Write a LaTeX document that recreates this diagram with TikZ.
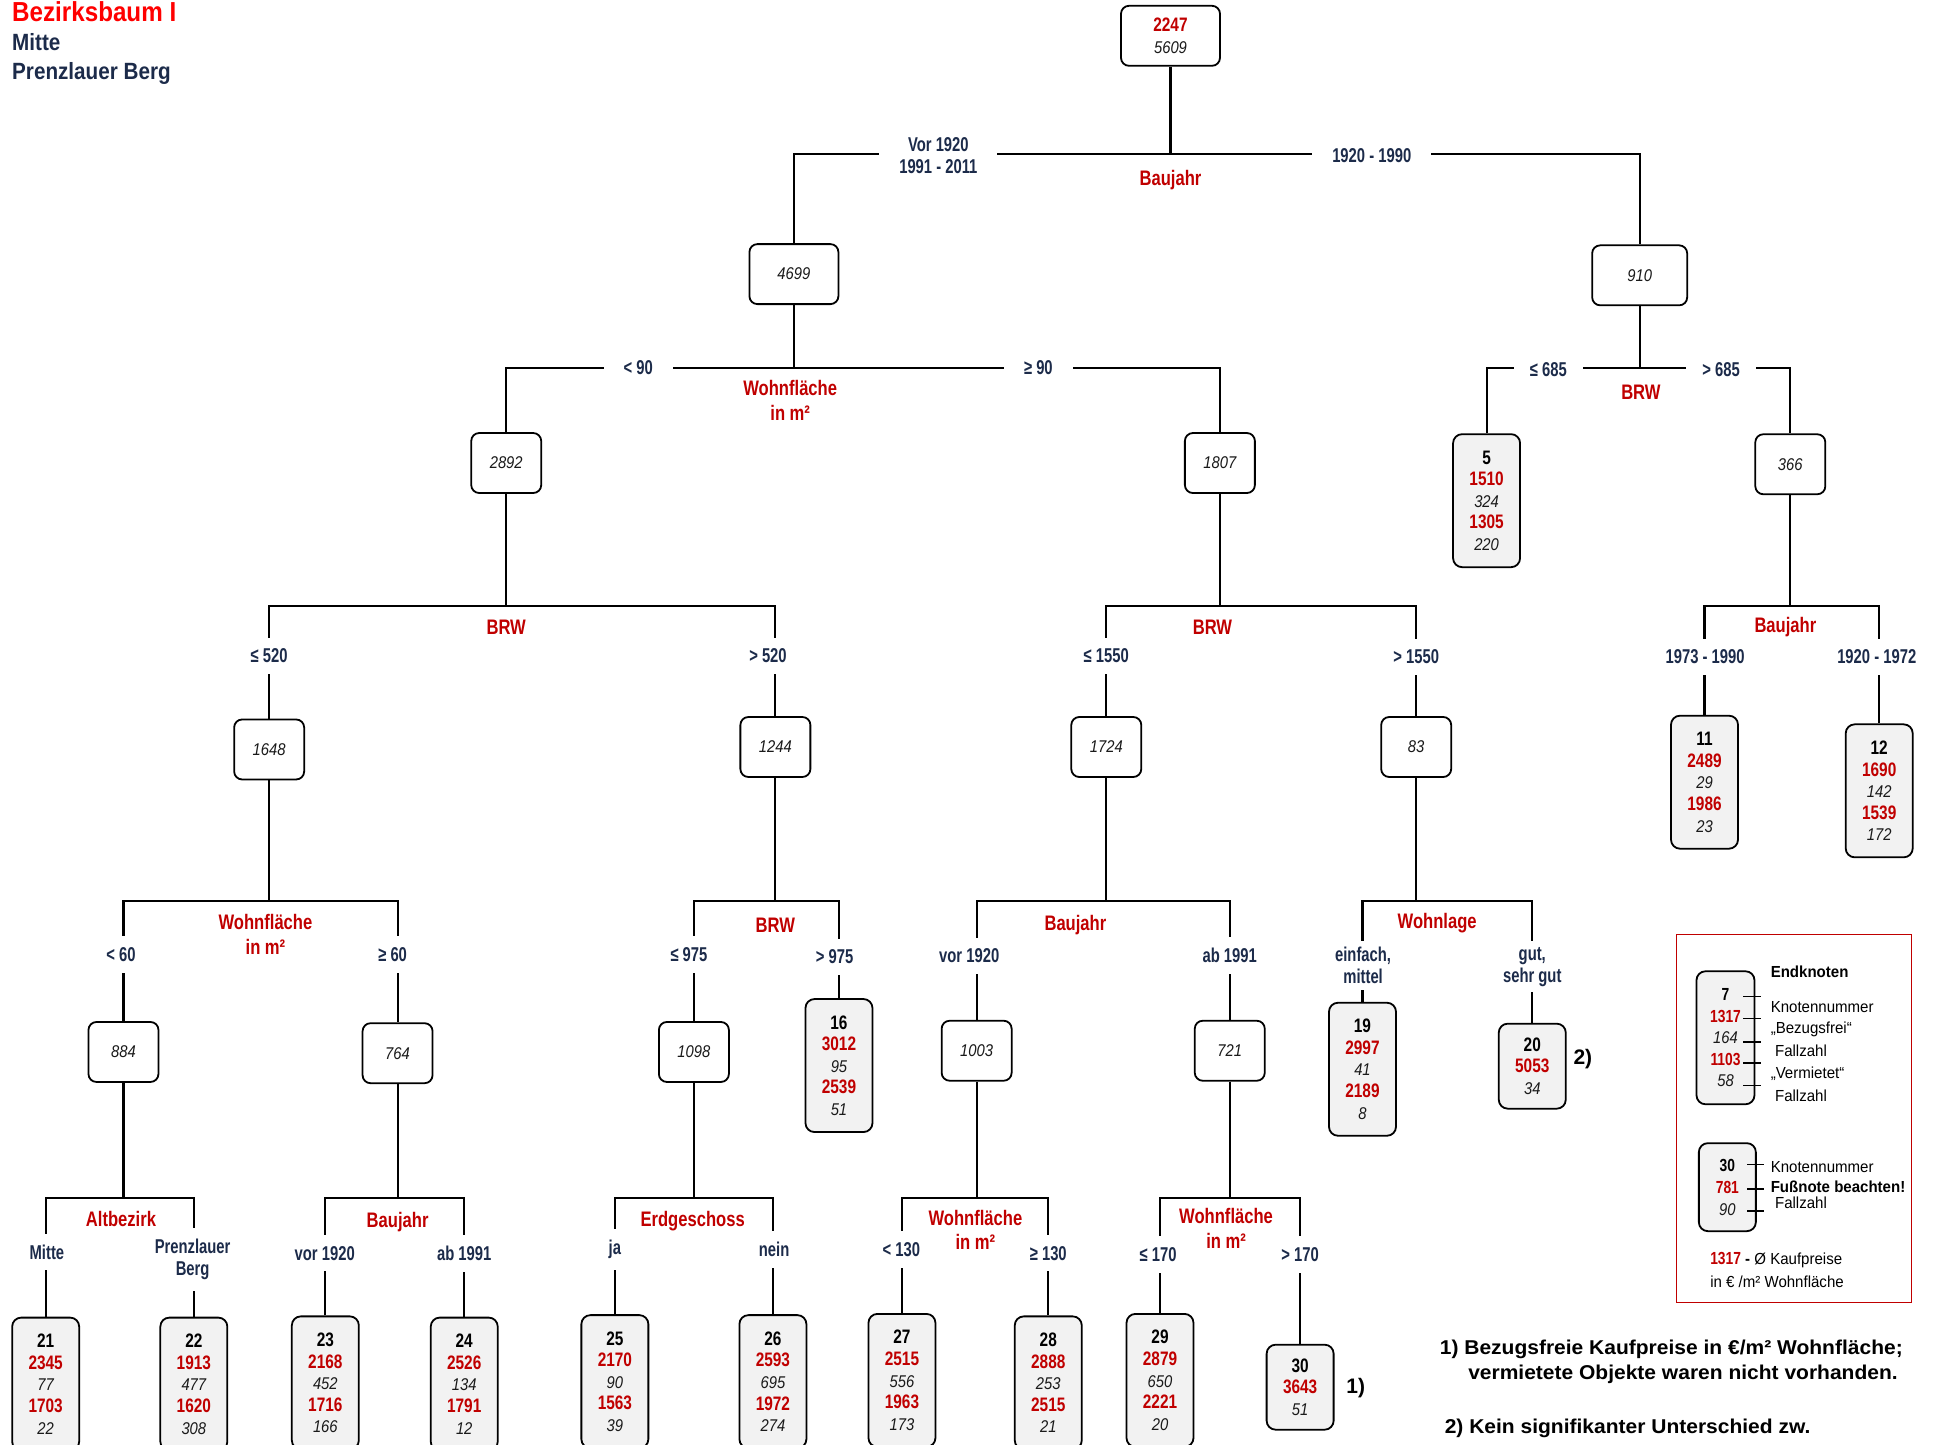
\documentclass[tikz,border=0pt]{standalone}
\usepackage{fontspec}
\setmainfont{Liberation Sans}
\newfontfamily\fcond{Liberation Sans}[FakeStretch=0.79]
\newfontfamily\fital{Liberation Sans}[FakeStretch=0.87]
\newfontfamily\flbl{Liberation Sans}[FakeStretch=0.74]
\newfontfamily\ftitle{Liberation Sans}[FakeStretch=0.88]
\newfontfamily\fleg{Liberation Sans}[FakeStretch=0.94]
\newfontfamily\ffoot{Liberation Sans}[FakeStretch=1.05]
\definecolor{lblred}{HTML}{C00000}
\definecolor{titlered}{HTML}{FF0000}
\definecolor{brnavy}{HTML}{1C2B4A}
\definecolor{leafgray}{HTML}{F2F2F2}
\definecolor{cntgray}{HTML}{1A1A1A}
\newcommand{\fcnt}{\fital\itshape\mdseries\color{cntgray}\fontsize{17}{21.6}\selectfont}
\newcommand{\lfive}[5]{{\bfseries #1}\\{\color{lblred}\bfseries #2}\\{\fcnt #3}\\{\color{lblred}\bfseries #4}\\{\fcnt #5}}
\newcommand{\lthree}[3]{{\bfseries #1}\\{\color{lblred}\bfseries #2}\\{\fcnt #3}}
\tikzset{
  conn/.style={line width=2.1pt},
  innerbox/.style={draw, line width=1.8pt, rounded corners=8pt, fill=white,
    minimum width=70pt, minimum height=60pt, inner sep=0pt, text=cntgray,
    font=\fital\itshape\fontsize{17}{18}\selectfont},
  leafbox/.style={draw, line width=1.8pt, rounded corners=9pt, fill=leafgray,
    minimum width=67pt, minimum height=133pt, inner sep=0pt, align=center,
    font=\fcond\bfseries\fontsize{19.5}{21.6}\selectfont},
  leafsmall/.style={leafbox, minimum height=85pt},
  brh/.style={fill=white, text=brnavy, align=center, inner xsep=20pt, inner ysep=3pt,
    font=\flbl\bfseries\fontsize{20}{22}\selectfont},
  brv/.style={fill=white, text=brnavy, align=center, inner xsep=3pt, inner ysep=11pt,
    font=\flbl\bfseries\fontsize{20}{22}\selectfont},
  varlbl/.style={text=lblred, align=center, inner sep=0pt,
    font=\fcond\bfseries\fontsize{21}{24.7}\selectfont},
  legtxt/.style={anchor=base west, inner sep=0pt, font=\fleg\fontsize{16}{19}\selectfont},
  foot/.style={anchor=base west, inner sep=0pt, font=\ffoot\bfseries\fontsize{20}{22}\selectfont},
}
\begin{document}
\begin{tikzpicture}[x=1.2347pt, y=-1.2347pt]
\useasboundingbox (0,0) rectangle (1568,1170);
\clip (0,0) rectangle (1568,1170);

% title
\node[anchor=base west, inner sep=0pt, text=titlered, font=\ftitle\bfseries\fontsize{27.5}{30}\selectfont] (title) at (9.7,17.2) {Bezirksbaum I};
\node[anchor=base west, inner sep=0pt, text=brnavy, font=\ftitle\bfseries\fontsize{23.5}{26}\selectfont] (t1) at (9.7,40.5) {Mitte};
\node[anchor=base west, inner sep=0pt, text=brnavy, font=\ftitle\bfseries\fontsize{23.5}{26}\selectfont] (t2) at (9.7,64) {Prenzlauer Berg};

% inner nodes
\node[innerbox, minimum width=99pt, align=center, font=\fcond\fontsize{17}{22}\selectfont] (root) at (948,29)
  {{\color{lblred}\bfseries\fontsize{19.5}{22}\selectfont 2247}\\{\fcnt 5609}};
\node[innerbox, minimum width=89pt] (n4699) at (643,222) {4699};
\node[innerbox, minimum width=95pt] (n910) at (1328,223) {910};
\node[innerbox] (n2892) at (410,375) {2892};
\node[innerbox] (n1807) at (988,375) {1807};
\node[innerbox] (n366) at (1450,376) {366};
\node[innerbox] (n1648) at (218,607) {1648};
\node[innerbox] (n1244) at (628,605) {1244};
\node[innerbox] (n1724) at (896,605) {1724};
\node[innerbox] (n83) at (1147,605) {83};
\node[innerbox] (n884) at (100,852) {884};
\node[innerbox] (n764) at (322,853) {764};
\node[innerbox] (n1098) at (562,852) {1098};
\node[innerbox] (n1003) at (791,851) {1003};
\node[innerbox] (n721) at (996,851) {721};

% leaves
\node[leafbox] (l5) at (1204,405.5) {\lfive{5}{1510}{324}{1305}{220}};
\node[leafbox] (l11) at (1380.5,633.5) {\lfive{11}{2489}{29}{1986}{23}};
\node[leafbox] (l12) at (1522,640.5) {\lfive{12}{1690}{142}{1539}{172}};
\node[leafbox] (l16) at (679.5,863) {\lfive{16}{3012}{95}{2539}{51}};
\node[leafbox] (l19) at (1103.5,866) {\lfive{19}{2997}{41}{2189}{8}};
\node[leafsmall] (l20) at (1241,863.5) {\lthree{20}{5053}{34}};
\node[leafbox] (l21) at (37,1121) {\lfive{21}{2345}{77}{1703}{22}};
\node[leafbox] (l22) at (157,1121) {\lfive{22}{1913}{477}{1620}{308}};
\node[leafbox] (l23) at (263.5,1120) {\lfive{23}{2168}{452}{1716}{166}};
\node[leafbox] (l24) at (376,1121) {\lfive{24}{2526}{134}{1791}{12}};
\node[leafbox] (l25) at (498,1119) {\lfive{25}{2170}{90}{1563}{39}};
\node[leafbox] (l26) at (626,1119) {\lfive{26}{2593}{695}{1972}{274}};
\node[leafbox] (l27) at (730.5,1118) {\lfive{27}{2515}{556}{1963}{173}};
\node[leafbox] (l28) at (849,1120) {\lfive{28}{2888}{253}{2515}{21}};
\node[leafbox] (l29) at (939.5,1118) {\lfive{29}{2879}{650}{2221}{20}};
\node[leafsmall] (l30) at (1053,1123.5) {\lthree{30}{3643}{51}};

% connectors
\foreach \p/\yy/\l/\r in {root/125/n4699/n910, n4699/298/n2892/n1807, n910/298/l5/n366,
  n2892/491/n1648/n1244, n1807/491/n1724/n83, n366/491/l11/l12,
  n1648/730/n884/n764, n1244/730/n1098/l16, n1724/730/n1003/n721, n83/730/l19/l20,
  n884/970/l21/l22, n764/970/l23/l24, n1098/970/l25/l26, n1003/970/l27/l28, n721/970/l29/l30}{
  \coordinate (s-\p) at (\p |- 0,\yy);
  \draw[conn] (\p) -- (s-\p);
  \draw[conn] (\l) |- (s-\p) -| (\r);
}

% branch labels on horizontal lines
\node[brh] (b0l) at (760,126) {Vor 1920\\1991 - 2011};
\node[brh] (b0r) at (1111,126) {1920 - 1990};
\node[brh] (b1l) at (517,298) {< 90};
\node[brh] (b1r) at (841,298) {≥ 90};
\node[brh, inner xsep=16pt] (b2l) at (1254,299) {≤ 685};
\node[brh, inner xsep=16pt] (b2r) at (1394,299) {> 685};

% branch labels on vertical lines
\node[brv] (b3l) at (218,531) {≤ 520};
\node[brv] (b3r) at (622,531) {> 520};
\node[brv] (b4l) at (896,531) {≤ 1550};
\node[brv] (b4r) at (1147,532) {> 1550};
\node[brv] (b5l) at (1381,532) {1973 - 1990};
\node[brv] (b5r) at (1520,532) {1920 - 1972};
\node[brv] (b6l) at (98,773) {< 60};
\node[brv] (b6r) at (318,773) {≥ 60};
\node[brv] (b7l) at (558,773) {≤ 975};
\node[brv] (b7r) at (676,775) {> 975};
\node[brv] (b8l) at (785,774) {vor 1920};
\node[brv] (b8r) at (996,774) {ab 1991};
\node[brv, inner ysep=6pt] (b9l) at (1104,782) {einfach,\\mittel};
\node[brv, inner ysep=6pt] (b9r) at (1241,783) {gut,\\sehr gut};
\node[brv] (b10l) at (38,1014) {Mitte};
\node[brv] (b10r) at (156,1020) {Prenzlauer\\Berg};
\node[brv] (b11l) at (263,1015) {vor 1920};
\node[brv] (b11r) at (376,1015) {ab 1991};
\node[brv] (b12l) at (498,1012) {ja};
\node[brv] (b12r) at (627,1012) {nein};
\node[brv] (b13l) at (730,1012) {< 130};
\node[brv] (b13r) at (849,1015) {≥ 130};
\node[brv] (b14l) at (938,1016) {≤ 170};
\node[brv] (b14r) at (1053,1016) {> 170};

% split variable labels
\node[varlbl] (v0) at (948,146) {Baujahr};
\node[varlbl] (v1) at (640,324) {Wohnfläche\\in m²};
\node[varlbl] (v2) at (1329,318) {BRW};
\node[varlbl] (v3) at (410,508) {BRW};
\node[varlbl] (v4) at (982,508) {BRW};
\node[varlbl] (v5) at (1446,508) {Baujahr};
\node[varlbl] (v6) at (215,757) {Wohnfläche\\in m²};
\node[varlbl] (v7) at (628,749) {BRW};
\node[varlbl] (v8) at (871,749) {Baujahr};
\node[varlbl] (v9) at (1164,748) {Wohnlage};
\node[varlbl] (v10) at (98,987) {Altbezirk};
\node[varlbl] (v11) at (322,990) {Baujahr};
\node[varlbl] (v12) at (561,989) {Erdgeschoss};
\node[varlbl] (v13) at (790,996) {Wohnfläche\\in m²};
\node[varlbl] (v14) at (993,995) {Wohnfläche\\in m²};

% footnote markers
\node[inner sep=0pt, font=\bfseries\fontsize{21}{22}\selectfont] (m1) at (1098,1124) {1)};
\node[inner sep=0pt, font=\bfseries\fontsize{21}{22}\selectfont] (m2) at (1282,858) {2)};

% legend
\draw[draw=lblred, line width=1.3pt] (1358,757) rectangle (1548,1055);
\node[legtxt, font=\fleg\bfseries\fontsize{16}{19}\selectfont] (le0) at (1434,792) {Endknoten};
\node[leafbox, minimum width=58pt, font=\fcond\bfseries\fontsize{17.5}{21.6}\selectfont] (k7) at (1397.5,840.5) {\lfive{7}{1317}{164}{1103}{58}};
\foreach \yy in {807,825,844,861,879} \draw[line width=1.6pt] (1412,\yy) -- (1426,\yy);
\node[legtxt] (le1) at (1434,820) {Knotennummer};
\node[legtxt] (le2) at (1434,837) {„Bezugsfrei“};
\node[legtxt] (le3) at (1437.5,855.5) {Fallzahl};
\node[legtxt] (le4) at (1434,873.5) {„Vermietet“};
\node[legtxt] (le5) at (1437.5,892) {Fallzahl};
\node[leafsmall, minimum width=57pt, minimum height=88pt, font=\fcond\bfseries\fontsize{17.5}{22}\selectfont] (k30) at (1399,961.5) {\lthree{30}{781}{90}};
\foreach \yy in {943,963,981} \draw[line width=1.6pt] (1415,\yy) -- (1429,\yy);
\node[legtxt] (le6) at (1434,949.5) {Knotennummer};
\node[legtxt, font=\fleg\bfseries\fontsize{16}{19}\selectfont] (le7) at (1434,965.5) {Fußnote beachten!};
\node[legtxt] (le8) at (1437.5,979) {Fallzahl};
\node[legtxt] (le9) at (1385,1024.5) {{\fcond\bfseries\fontsize{17.5}{19}\selectfont\color{lblred}1317} {\bfseries -} Ø Kaufpreise};
\node[legtxt] (le10) at (1385,1042.5) {in € /m² Wohnfläche};

% footnotes
\node[foot] (f1) at (1166,1097) {1) Bezugsfreie Kaufpreise in €/m² Wohnfläche;};
\node[foot] (f1b) at (1189,1117) {vermietete Objekte waren nicht vorhanden.};
\node[foot] (f2) at (1170,1161) {2) Kein signifikanter Unterschied zw.};
\end{tikzpicture}
\end{document}
